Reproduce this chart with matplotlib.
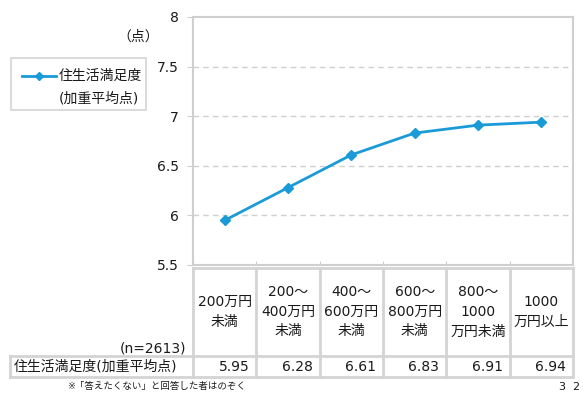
import matplotlib
matplotlib.use("Agg")
import matplotlib.pyplot as plt
from matplotlib.patches import Rectangle

plt.rcParams['font.family'] = ['DejaVu Sans', 'Noto Sans CJK JP']

# Data
categories = ["200万円\n未満", "200～\n400万円\n未満", "400～\n600万円\n未満",
              "600～\n800万円\n未満", "800～\n1000\n万円未満", "1000\n万円以上"]
scores = [5.95, 6.28, 6.61, 6.83, 6.91, 6.94]
row_label = "住生活満足度(加重平均点)"
yticks = [5.5, 6, 6.5, 7, 7.5, 8]
ytick_labels = ["5.5", "6", "6.5", "7", "7.5", "8"]

W, H = 586, 393
fig = plt.figure(figsize=(W / 100, H / 100), dpi=100)

line_color = "#1a9bd7"
grid_color = "#cfcfcf"
text_color = "#1a1a1a"
fs = 10

# plot area in pixel coordinates
px_left, px_right, px_top, px_bottom = 193, 573, 17, 265
ax = fig.add_axes([px_left / W, 1 - px_bottom / H,
                   (px_right - px_left) / W, (px_bottom - px_top) / H])
n = len(scores)
xs = list(range(n))
ax.plot(xs, scores, color=line_color, lw=2, marker="D", ms=5.5,
        markeredgecolor=line_color, zorder=3)
ax.set_xlim(-0.5, n - 0.5)
ax.set_ylim(5.5, 8)
ax.set_yticks(yticks)
ax.set_yticklabels(ytick_labels, fontsize=fs, color=text_color)
ax.set_xticks([i + 0.5 for i in range(-1, n)])
ax.set_xticklabels([])
ax.tick_params(axis="x", length=3, color=grid_color, direction="in")
ax.tick_params(axis="y", length=4, color=grid_color, pad=6)
for y in yticks[1:-1]:
    ax.axhline(y, color=grid_color, lw=1, ls=(0, (4, 3)), zorder=1)
for s in ax.spines.values():
    s.set_color(grid_color)
    s.set_linewidth(1.5)

# overlay for table, legend and notes (pixel coordinates)
ov = fig.add_axes([0, 0, 1, 1], facecolor="none")
ov.set_xlim(0, W)
ov.set_ylim(H, 0)
ov.axis("off")

tcol = "#d4d4d4"
tlw = 2
col_edges = [px_left + i * (px_right - px_left) / n for i in range(n + 1)]
head_top, head_bot, row_bot = 268, 356, 377

# header row
ov.plot([px_left, px_right], [head_top, head_top], color=tcol, lw=tlw)
for xe in col_edges:
    ov.plot([xe, xe], [head_top, row_bot], color=tcol, lw=tlw)
# data row
ov.plot([10, px_right], [head_bot, head_bot], color=tcol, lw=tlw)
ov.plot([10, px_right], [row_bot, row_bot], color=tcol, lw=tlw)
ov.plot([10, 10], [head_bot, row_bot], color=tcol, lw=tlw)

for i, cat in enumerate(categories):
    cx = (col_edges[i] + col_edges[i + 1]) / 2
    ov.text(cx, 312, cat, ha="center", va="center", fontsize=fs,
            color=text_color, linespacing=1.5)
    ov.text(col_edges[i + 1] - 7, 367, f"{scores[i]:.2f}", ha="right",
            va="center", fontsize=fs, color=text_color)

ov.text(14, 367, row_label, ha="left", va="center", fontsize=fs, color=text_color)
ov.text(186, 348, "(n=2613)", ha="right", va="center", fontsize=fs, color=text_color)
ov.text(159, 37, "（点）", ha="right", va="center", fontsize=fs, color=text_color)

# legend box
ov.add_patch(Rectangle((11, 58), 135, 52, fill=False, edgecolor=tcol, lw=1.2))
ov.plot([22, 56], [76, 76], color=line_color, lw=2)
ov.plot([39], [76], color=line_color, marker="D", ms=4.5)
ov.text(59, 76, "住生活満足度", ha="left", va="center", fontsize=fs, color=text_color)
ov.text(59, 98, "(加重平均点)", ha="left", va="center", fontsize=fs, color=text_color)

# footnote and page number
ov.text(67, 386, "※「答えたくない」と回答した者はのぞく", ha="left", va="center",
        fontsize=6.8, color=text_color)
ov.text(580, 387, "3  2", ha="right", va="center", fontsize=8, color=text_color)

fig.savefig("out.png", dpi=100)
